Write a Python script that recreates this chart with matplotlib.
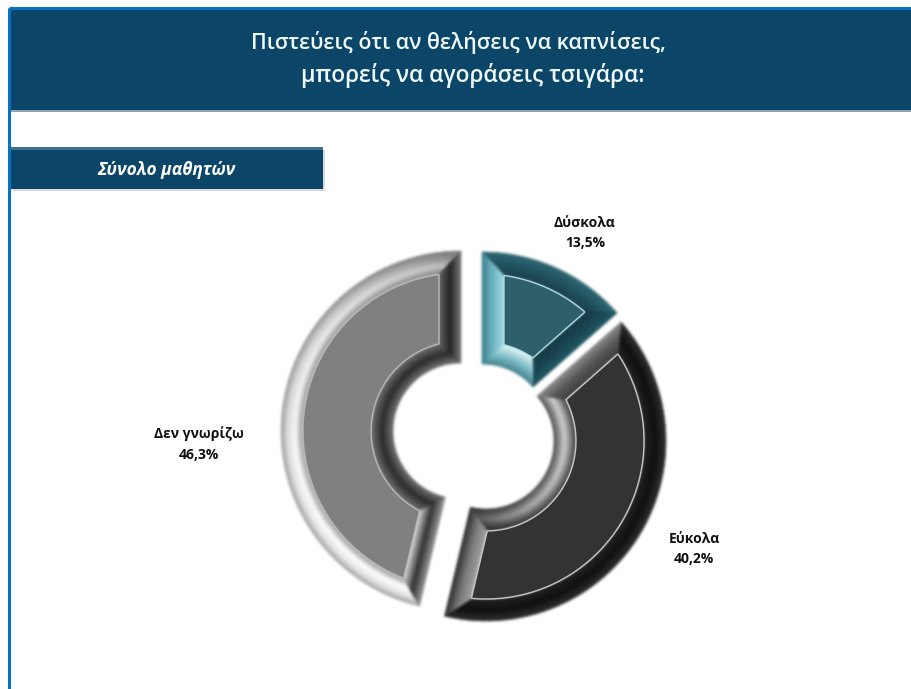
import numpy as np
import matplotlib
matplotlib.use("Agg")
import matplotlib.pyplot as plt
from matplotlib.colors import to_rgb
from matplotlib.patches import Rectangle, Polygon
from matplotlib.collections import PolyCollection

categories = ["Δύσκολα", "Εύκολα", "Δεν γνωρίζω"]
values = [13.5, 40.2, 46.3]
title_lines = ["Πιστεύεις ότι αν θελήσεις να καπνίσεις,", "μπορείς να αγοράσεις τσιγάρα:"]
subtitle = "Σύνολο μαθητών"

FONT = ["Open Sans", "DejaVu Sans"]
W, H = 911, 689
NAVY = "#0b4668"
R_OUT, R_IN, BEVEL = 180.0, 68.0, 22.0
STEPS = 14
N_ARC = 60

centers = [(482, 432), (486, 441), (461, 431)]
label_pos = [(585, 233), (694, 549), (199, 444)]
styles = [
    dict(face="#2f5f6b", line="#a5d8e0",
         outer=["#2a6470", "#1c505c", "#143c48"],
         inner=["#3f7f8a", "#7fc0c8", "#e2f6f8"],
         start=["#357a8a", "#6db4c0", "#9ad6de"],
         end=["#1d5460", "#12404c", "#0e3440"]),
    dict(face="#333333", line="#c4c4c4",
         outer=["#2a2a2a", "#0a0a0a", "#1c1c1c"],
         inner=["#4a4a4a", "#d0d0d0", "#3c3c3c"],
         inner_end=["#2a2a2a", "#5a5a5a", "#202020"],
         start=["#8a8a8a", "#555555", "#3a3a3a"],
         end=["#262626", "#777777", "#a0a0a0"]),
    dict(face="#808080", line="#b4b4b4",
         outer=["#a0a0a0", "#e8e8e8", "#ffffff", "#9a9a9a"],
         outer_end=["#707070", "#8c8c8c", "#c0c0c0", "#808080"],
         inner=["#707070", "#262626", "#6a6a6a"],
         start=["#9a9a9a", "#2c2c2c", "#d0d0d0"],
         end=["#7a7a7a", "#202020", "#5a5a5a"]),
]


def gradient(stops, f):
    pos = np.linspace(0, 1, len(stops))
    rgb = np.array([to_rgb(c) for c in stops])
    return np.array([np.interp(f, pos, rgb[:, i]) for i in range(3)])


def arc(cx, cy, rho, t0, t1, d):
    da = np.arcsin(min(d / rho, 1.0))
    t = np.linspace(t0 + da, t1 - da, N_ARC)
    return np.column_stack([cx + rho * np.sin(t), cy - rho * np.cos(t)])


def inset(cx, cy, t0, t1, d):
    return (arc(cx, cy, R_OUT - d, t0, t1, d),
            arc(cx, cy, R_IN + d, t0, t1, d))


def soft(image, dpi, sigma=0.9):
    x = np.arange(-3, 4)
    kernel = np.exp(-x ** 2 / (2 * sigma ** 2))
    kernel /= kernel.sum()
    pad = 4
    img = np.pad(image, ((pad, pad), (pad, pad), (0, 0)))
    rgb_alpha = img.copy()
    rgb_alpha[..., :3] *= img[..., 3:4]
    for axis in (0, 1):
        rgb_alpha = np.apply_along_axis(lambda m: np.convolve(m, kernel, mode="same"), axis, rgb_alpha)
    a = np.clip(rgb_alpha[..., 3:4], 1e-4, 1)
    rgb_alpha[..., :3] = np.clip(rgb_alpha[..., :3] / a, 0, 1)
    return rgb_alpha, -pad, -pad


fig = plt.figure(figsize=(W / 100, H / 100), dpi=100, facecolor="white")
ax = fig.add_axes([0, 0, 1, 1])
ax.set_xlim(0, W)
ax.set_ylim(H, 0)
ax.axis("off")

# frame, header and sub-header
ax.add_patch(Rectangle((9, 8), W, H, fc="none", ec="#0a70c0", lw=2.2))
ax.add_patch(Rectangle((11, 10), W, 100, fc=NAVY, ec="none"))
ax.add_patch(Rectangle((11, 110), W, 2, fc="#8fa4ae", ec="none"))
ax.add_patch(Rectangle((13, 150), 312, 41, fc="#d8dcde", ec="none"))
ax.add_patch(Rectangle((11, 147), 312, 42, fc=NAVY, ec="none"))
ax.add_patch(Rectangle((11, 147), 312, 3, fc="#3a7290", ec="none"))
ax.text(458, 42, title_lines[0], color="#f0fafc", fontsize=15.4, ha="center", va="center",
        family=FONT, fontweight="semibold")
ax.text(473, 75, title_lines[1], color="#f0fafc", fontsize=16.4, ha="center", va="center",
        family=FONT, fontweight="semibold")
ax.text(166, 170, subtitle, color="white", fontsize=12.5, ha="center", va="center",
        family=FONT, fontweight="bold", fontstyle="italic")

# doughnut: the angles come from the values, clockwise from 12 o'clock
edges = np.radians(np.concatenate([[0], np.cumsum(values)]) / sum(values) * 360)
for i, st in enumerate(styles):
    cx, cy = centers[i]
    t0, t1 = edges[i], edges[i + 1]
    polys, cols = [], []
    ds = np.linspace(0, BEVEL, STEPS + 1)
    for k in range(STEPS):
        o0, n0 = inset(cx, cy, t0, t1, ds[k])
        o1, n1 = inset(cx, cy, t0, t1, ds[k + 1])
        f = (k + 0.5) / STEPS
        for a0, a1, key in ((o0, o1, "outer"), (n0, n1, "inner")):
            c0 = gradient(st[key], f)
            c1 = gradient(st.get(key + "_end", st[key]), f)
            for j in range(N_ARC - 1):
                polys.append(np.vstack([a0[j], a0[j + 1], a1[j + 1], a1[j]]))
                w = ((j + 0.5) / (N_ARC - 1)) ** 3
                cols.append(c0 * (1 - w) + c1 * w)
        polys.append(np.vstack([n0[0], o0[0], o1[0], n1[0]]))
        cols.append(gradient(st["start"], f))
        polys.append(np.vstack([n0[-1], o0[-1], o1[-1], n1[-1]]))
        cols.append(gradient(st["end"], f))
    coll = PolyCollection(polys, facecolors=cols, edgecolors=cols, linewidths=0.4, zorder=3 + i)
    coll.set_agg_filter(soft)
    ax.add_collection(coll)
    o, n = inset(cx, cy, t0, t1, BEVEL)
    face = Polygon(np.vstack([o, n[::-1]]), closed=True, fc=st["face"], ec=st["line"],
                   lw=1.0, zorder=3 + i)
    ax.add_patch(face)

for name, v, (x, y) in zip(categories, values, label_pos):
    ax.text(x, y, f"{name}\n{v:.1f}".replace(".", ",") + "%", color="#111111", fontsize=10,
            fontweight="bold", ha="center", va="center", family=FONT, linespacing=1.6, zorder=8)

fig.savefig("out.png", dpi=100, facecolor="white")
